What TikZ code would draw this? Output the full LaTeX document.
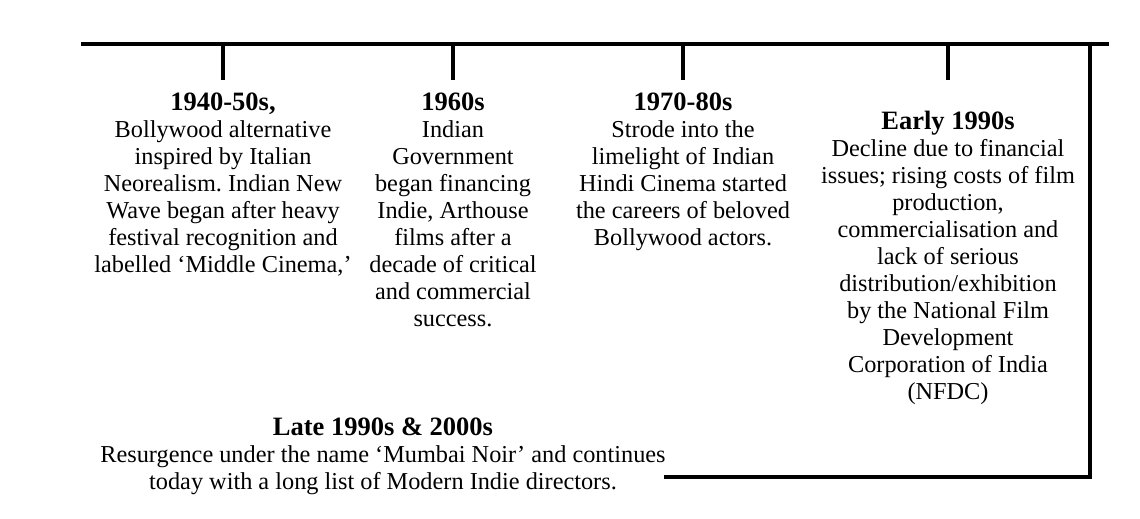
\documentclass[tikz,border=0pt]{standalone}
\usepackage{fontspec}
\setmainfont{Liberation Serif}
\frenchspacing

\newcommand{\jahr}[1]{{\fontsize{26.5}{27}\selectfont\bfseries #1}}

\tikzset{
  axis/.style={line width=3.5pt, line cap=rect},
  evtbox/.style={anchor=north, align=center, inner sep=0pt, font=\fontsize{24.3}{27}\selectfont}
}

\begin{document}
\begin{tikzpicture}[x=1pt, y=-1pt]
\useasboundingbox (0,0) rectangle (1140,519);

%ZEITACHSE OBEN
\coordinate (axl) at (83,44);
\coordinate (axr) at (1107,44);
\coordinate (cnr) at (1090,44);
\coordinate (cnb) at (1090,477);
\coordinate (endb) at (666,477);
\draw [axis] (axl) -- (axr);
\draw [axis, line join=miter] (cnr) -- (cnb) -- (endb);

%STRICHE
\foreach \x/\n in {223/a, 453/b, 683/c, 948/d} {
  \coordinate (top\n) at (\x,44);
  \coordinate (bot\n) at (\x,80);
  \draw [axis, line cap=butt] (top\n) -- (bot\n);
}

%EREIGNISSE
\node [evtbox] (e40) at (223,93) {\jahr{1940-50s,}\\Bollywood alternative\\inspired by Italian\\Neorealism. Indian New\\Wave began after heavy\\festival recognition and\\labelled ‘Middle Cinema,’};

\node [evtbox] (e60) at (453,93) {\jahr{1960s}\\Indian\\Government\\began financing\\Indie, Arthouse\\films after a\\decade of critical\\and commercial\\success.};

\node [evtbox] (e70) at (683,93) {\jahr{1970-80s}\\Strode into the\\limelight of Indian\\Hindi Cinema started\\the careers of beloved\\Bollywood actors.};

\node [evtbox] (e90) at (948,111) {\jahr{Early 1990s}\\Decline due to financial\\issues; rising costs of film\\production,\\commercialisation and\\lack of serious\\distribution/exhibition\\by the National Film\\Development\\Corporation of India\\(NFDC)};

\node [evtbox] (e00) at (383,418) {\jahr{Late 1990s \& 2000s}\\Resurgence under the name ‘Mumbai Noir’ and continues\\today with a long list of Modern Indie directors.};

\end{tikzpicture}
\end{document}
